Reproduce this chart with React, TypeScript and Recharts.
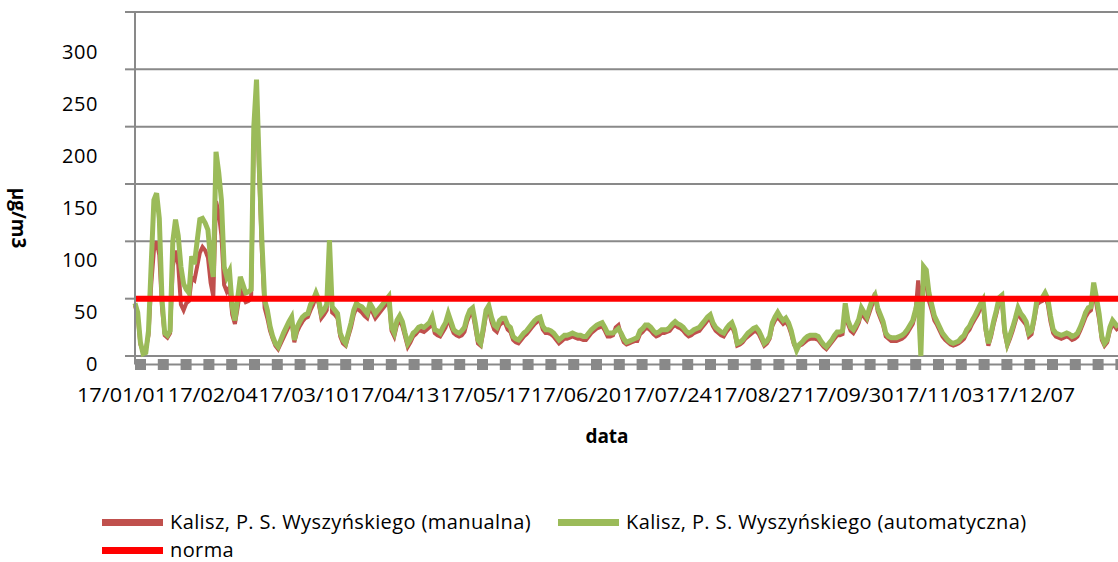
import { CartesianGrid, Line, LineChart, XAxis, YAxis } from "recharts"

// PM10 daily averages, Kalisz 2017 -- manual vs automatic station, with the 50 µg/m3 norm.

const pad = (n: number) => String(n).padStart(2, "0")

// one category per day of 2017, labelled yy/mm/dd
const DATES: string[] = Array.from({ length: 365 }, (_, i) => {
  const d = new Date(Date.UTC(2017, 0, 1 + i))
  return `17/${pad(d.getUTCMonth() + 1)}/${pad(d.getUTCDate())}`
})

const X_TICK_LABELS = [
  "17/01/01", "17/02/04", "17/03/10", "17/04/13", "17/05/17", "17/06/20",
  "17/07/24", "17/08/27", "17/09/30", "17/11/03", "17/12/07",
]

const Y_TICKS = [0, 50, 100, 150, 200, 250, 300]

const NORMA = 50

const AUTOMATYCZNA = [
  46, 38, 12, 2, 3, 22, 80, 136, 142, 120,
  49, 20, 18, 22, 100, 119, 105, 78, 63, 58,
  55, 87, 80, 100, 119, 120, 116, 110, 84, 69,
  178, 160, 136, 78, 69, 74, 43, 31, 50, 69,
  62, 55, 56, 58, 200, 241, 165, 100, 49, 40,
  26, 17, 11, 8, 14, 20, 25, 30, 34, 14,
  25, 30, 34, 36, 37, 45, 49, 55, 49, 37,
  40, 45, 101, 43, 40, 37, 20, 14, 11, 20,
  29, 40, 46, 44, 43, 40, 37, 46, 42, 37,
  40, 43, 46, 49, 52, 25, 20, 31, 35, 30,
  20, 11, 15, 20, 22, 25, 26, 25, 27, 29,
  34, 23, 22, 20, 25, 29, 37, 30, 23, 21,
  20, 22, 25, 34, 40, 42, 29, 14, 11, 25,
  40, 44, 34, 27, 25, 31, 33, 33, 27, 25,
  17, 15, 14, 17, 20, 22, 25, 28, 31, 33,
  34, 26, 23, 23, 22, 20, 17, 14, 16, 18,
  18, 19, 20, 19, 18, 18, 17, 17, 20, 23,
  25, 27, 28, 29, 25, 20, 20, 20, 22, 24,
  20, 15, 12, 13, 14, 15, 16, 22, 24, 27,
  27, 25, 22, 20, 21, 23, 23, 23, 25, 28,
  30, 28, 27, 25, 22, 20, 21, 23, 24, 25,
  28, 31, 34, 36, 29, 25, 23, 21, 20, 24,
  27, 29, 23, 11, 12, 14, 17, 20, 22, 24,
  25, 22, 17, 11, 13, 17, 29, 34, 38, 34,
  31, 33, 29, 22, 12, 5, 10, 12, 15, 17,
  18, 18, 18, 17, 13, 10, 8, 11, 14, 18,
  21, 21, 22, 46, 31, 25, 23, 27, 32, 42,
  38, 34, 42, 49, 53, 42, 36, 30, 20, 17,
  16, 16, 16, 17, 18, 20, 23, 27, 31, 40,
  50, 0, 78, 75, 55, 45, 35, 30, 25, 20,
  17, 14, 12, 11, 12, 13, 16, 18, 23, 26,
  31, 35, 40, 45, 49, 25, 11, 20, 31, 40,
  51, 53, 23, 11, 18, 25, 33, 42, 37, 34,
  30, 20, 22, 34, 49, 50, 51, 55, 50, 35,
  23, 20, 19, 18, 19, 20, 19, 17, 18, 20,
  25, 31, 38, 42, 43, 64, 51, 37, 17, 11,
  14, 25, 31, 28, 25,
]

const MANUALNA = [
  44, 35, 10, 4, 6, 18, 62, 92, 100, 88,
  42, 18, 16, 20, 78, 92, 80, 45, 40, 46,
  48, 68, 66, 78, 90, 95, 92, 86, 64, 52,
  135, 125, 105, 62, 56, 60, 36, 28, 42, 58,
  52, 47, 48, 50, 190, 232, 158, 90, 42, 33,
  22, 15, 9, 6, 11, 16, 21, 26, 30, 12,
  21, 26, 30, 33, 34, 40, 45, 52, 46, 33,
  36, 40, 92, 38, 36, 33, 17, 11, 9, 17,
  25, 36, 42, 40, 38, 35, 33, 42, 38, 33,
  36, 39, 42, 45, 50, 22, 17, 27, 31, 26,
  17, 8, 12, 17, 19, 22, 22, 21, 23, 25,
  30, 20, 18, 17, 21, 25, 33, 26, 20, 18,
  17, 18, 21, 30, 36, 38, 25, 11, 9, 21,
  36, 40, 30, 23, 21, 27, 29, 29, 23, 21,
  14, 12, 11, 14, 17, 19, 22, 25, 28, 30,
  31, 23, 20, 20, 19, 17, 14, 11, 13, 15,
  15, 16, 17, 16, 15, 15, 14, 14, 17, 20,
  22, 24, 25, 26, 22, 17, 17, 18, 25, 27,
  18, 12, 10, 11, 12, 13, 13, 19, 21, 24,
  24, 22, 19, 17, 18, 20, 20, 21, 22, 25,
  27, 25, 24, 22, 19, 17, 18, 20, 21, 22,
  25, 28, 31, 32, 26, 22, 20, 18, 17, 21,
  24, 26, 20, 9, 10, 12, 15, 17, 19, 21,
  22, 19, 14, 9, 11, 15, 26, 31, 34, 31,
  28, 30, 26, 19, 10, 6, 9, 10, 12, 14,
  15, 15, 15, 14, 11, 8, 6, 9, 12, 15,
  18, 18, 19, 40, 28, 22, 20, 24, 29, 38,
  34, 31, 38, 45, 55, 39, 33, 27, 17, 15,
  13, 13, 13, 14, 15, 17, 20, 24, 28, 37,
  66, 40, 70, 62, 48, 40, 31, 27, 22, 17,
  14, 12, 10, 9, 10, 11, 13, 15, 20, 23,
  28, 32, 36, 41, 45, 22, 9, 17, 28, 37,
  47, 49, 20, 9, 15, 22, 30, 38, 33, 30,
  27, 17, 19, 31, 45, 47, 48, 52, 45, 30,
  20, 17, 16, 15, 16, 17, 16, 14, 15, 17,
  22, 28, 34, 38, 40, 58, 45, 32, 14, 9,
  12, 22, 28, 25, 22,
]

const data = DATES.map((date, i) => ({
  date,
  manualna: MANUALNA[i],
  automatyczna: AUTOMATYCZNA[i],
  norma: NORMA,
}))

const FONT = "'Open Sans', 'Noto Sans', sans-serif"
const GRID = "#898989"
const C_MANUAL = "#c0504d"
const C_AUTO = "#9bbb59"
const C_NORMA = "#ff0000"

// the source picture has its labels drifted a little off the ticks, mimic that
function YTick({ y, payload }: any) {
  const v = Number(payload.value)
  return (
    <text x={98} y={y + 7.5 + v * 0.109} dy="0.36em" textAnchor="end"
      fontFamily={FONT} fontSize={20} fill="#000" letterSpacing={0.6}>
      {payload.value}
    </text>
  )
}

function XTick({ x, y, payload, index }: any) {
  return (
    <text x={x - 13 - index} y={y + 37.5} textAnchor="middle" fontFamily={FONT}
      fontSize={20} fill="#000" textLength={90} lengthAdjust="spacingAndGlyphs">
      {payload.value}
    </text>
  )
}

const LEGEND = [
  { label: "Kalisz, P. S. Wyszyńskiego (manualna)", color: C_MANUAL, left: 102, top: 522 },
  { label: "Kalisz, P. S. Wyszyńskiego (automatyczna)", color: C_AUTO, left: 558, top: 522 },
  { label: "norma", color: C_NORMA, left: 102, top: 550 },
]

export default function App() {
  return (
    <div style={{ position: "absolute", left: 0, top: 0, width: 1118, height: 562, background: "#fff", overflow: "hidden" }}>
      <LineChart width={1118} height={562} data={data}
        margin={{ top: 12, right: 0, bottom: 137.5, left: 0 }}>
        <CartesianGrid vertical={false} stroke={GRID} strokeWidth={2} />
        <XAxis dataKey="date" ticks={X_TICK_LABELS} interval={0} tick={<XTick />}
          tickLine={false} tickSize={0} tickMargin={0} height={60}
          axisLine={{ stroke: GRID, strokeWidth: 11, strokeDasharray: "11 11.8" }}
          label={({ viewBox }: any) => (
            <text x={607} y={viewBox.y + 78} textAnchor="middle" fontFamily={FONT}
              fontSize={19} fontWeight={700} fill="#000">data</text>
          )} />
        <YAxis type="number" domain={[-7.4, 300]} ticks={Y_TICKS} interval={0} width={135}
          tick={<YTick />} tickSize={10} tickLine={{ stroke: GRID, strokeWidth: 2 }}
          axisLine={{ stroke: GRID, strokeWidth: 2 }}
          label={() => (
            <text x={19} y={218} transform="rotate(90 19 218)" textAnchor="middle"
              dominantBaseline="central" fontFamily={FONT} fontSize={19} fontWeight={700}
              fill="#000">µg/m3</text>
          )} />
        <Line dataKey="manualna" type="linear" stroke={C_MANUAL} strokeWidth={4}
          dot={false} isAnimationActive={false} />
        <Line dataKey="automatyczna" type="linear" stroke={C_AUTO} strokeWidth={5}
          dot={false} isAnimationActive={false} />
        <Line dataKey="norma" type="linear" stroke={C_NORMA} strokeWidth={6}
          dot={false} isAnimationActive={false} />
      </LineChart>
      {LEGEND.map((l) => (
        <div key={l.label} style={{ position: "absolute", left: l.left, top: l.top - 11,
          height: 22, lineHeight: "22px", display: "flex", alignItems: "center",
          fontFamily: FONT, fontSize: 20, letterSpacing: 0.4, color: "#000", whiteSpace: "nowrap" }}>
          <span style={{ display: "inline-block", width: 61, height: 7, background: l.color,
            marginRight: 7 }} />
          {l.label}
        </div>
      ))}
    </div>
  )
}
